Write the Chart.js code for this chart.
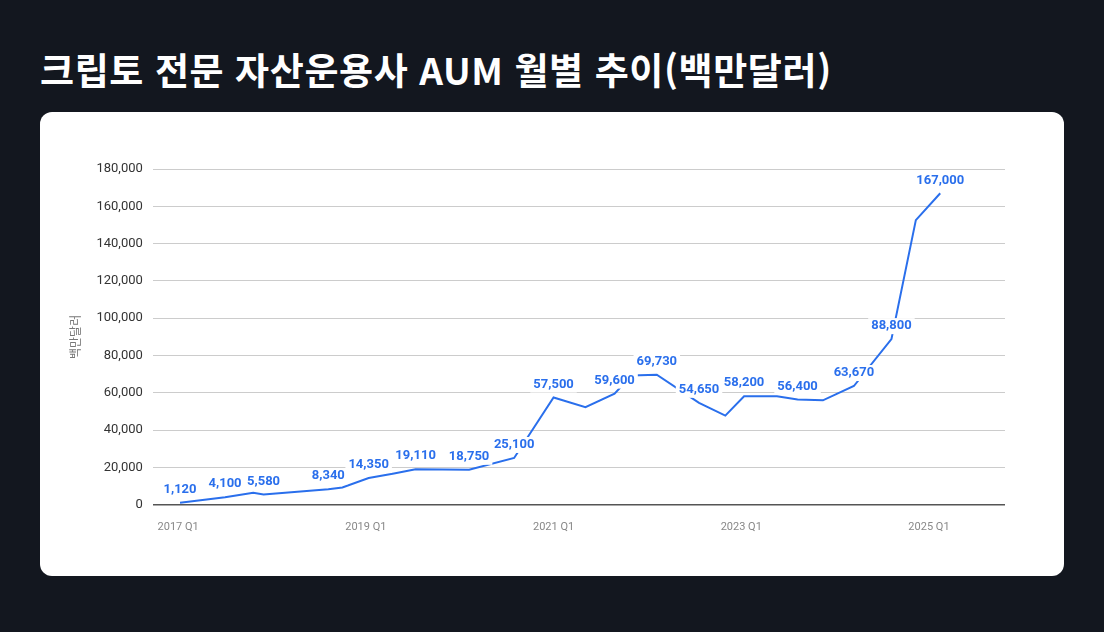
<!DOCTYPE html>
<html lang="ko">
<head>
<meta charset="UTF-8">
<title>크립토 전문 자산운용사 AUM 월별 추이</title>
<script src="https://cdn.jsdelivr.net/npm/chart.js"></script>
<style>
  body { margin: 0; width: 1104px; height: 632px; background: #13171f; font-family: Roboto, "Noto Sans CJK KR", sans-serif; overflow: hidden; }
  h1 { position: absolute; left: 40px; top: 42px; margin: 0; color: #fff; font-size: 37px; font-weight: 700; font-family: "Noto Sans CJK KR", Roboto, sans-serif; letter-spacing: 0.6px; }
  .card { position: absolute; left: 40px; top: 112px; width: 1024px; height: 464px; background: #fff; border-radius: 12px; }
  .wrap { position: absolute; left: 0; top: 0; width: 1024px; height: 464px; }
</style>
</head>
<body>
<h1>크립토 전문 자산운용사 AUM 월별 추이(백만달러)</h1>
<div class="card"><div class="wrap"><canvas id="aumChart"></canvas></div></div>

<script>
// 시점 (연도 소수 표기, 2017.0 = 2017 Q1)
const periods = [2017.02, 2017.5, 2017.8, 2017.91, 2018.6, 2018.75, 2019.03, 2019.3, 2019.53, 2020.1, 2020.58, 2021.0,
  2021.34, 2021.65, 2021.83, 2022.1, 2022.55, 2022.83, 2023.03, 2023.38, 2023.6, 2023.87, 2024.2, 2024.6, 2024.86, 2025.12];
// AUM (백만달러)
const aumValues = [1120, 4100, 6400, 5580, 8340, 9300, 14350, 16800, 19110, 18750, 25100, 57500,
  52300, 59600, 69300, 69730, 54650, 47800, 58200, 58200, 56400, 56000, 63670, 88800, 152600, 167000];
// 라벨 표시 여부
const showLabel = [1, 1, 0, 1, 1, 0, 1, 0, 1, 1, 1, 1, 0, 1, 0, 1, 1, 0, 1, 0, 1, 0, 1, 1, 0, 1];
const xTicks = [2017, 2019, 2021, 2023, 2025];

const fmt = v => v.toLocaleString('en-US');
const blue = '#2a6fec';

// 포인트 위에 값 라벨 그리기 (흰 배경)
const labelPlugin = {
  id: 'pointLabels',
  afterDatasetsDraw(chart) {
    const ctx = chart.ctx;
    const meta = chart.getDatasetMeta(0);
    ctx.save();
    ctx.font = 'bold 13px Roboto';
    ctx.textAlign = 'center';
    ctx.textBaseline = 'middle';
    meta.data.forEach((pt, i) => {
      if (!showLabel[i]) return;
      const txt = fmt(aumValues[i]);
      const w = ctx.measureText(txt).width;
      const x = pt.x, y = pt.y - 13;
      ctx.fillStyle = '#fff';
      ctx.fillRect(x - w / 2 - 3, y - 8, w + 6, 16);
      ctx.fillStyle = blue;
      ctx.fillText(txt, x, y);
    });
    ctx.restore();
  }
};

new Chart(document.getElementById('aumChart'), {
  type: 'line',
  data: {
    datasets: [{
      data: periods.map((p, i) => ({ x: p, y: aumValues[i] })),
      borderColor: blue,
      borderWidth: 2,
      pointRadius: 0,
      tension: 0,
      fill: false
    }]
  },
  options: {
    responsive: true,
    maintainAspectRatio: false,
    animation: false,
    layout: { padding: { left: 24, right: 59, top: 57, bottom: 34 } },
    plugins: { legend: { display: false }, tooltip: { enabled: false } },
    scales: {
      x: {
        type: 'linear',
        min: 2016.73,
        max: 2025.81,
        afterBuildTicks: axis => { axis.ticks = xTicks.map(v => ({ value: v })); },
        ticks: { callback: v => v + ' Q1', color: '#888', font: { family: 'Roboto', size: 11 }, maxRotation: 0, padding: 8 },
        grid: { display: false },
        border: { display: false }
      },
      y: {
        min: 0,
        max: 180000,
        ticks: { stepSize: 20000, callback: v => fmt(v), color: '#333', font: { family: 'Roboto', size: 13 }, padding: 10 },
        grid: { color: ctx => ctx.tick.value === 0 ? '#555' : '#ccc', lineWidth: ctx => ctx.tick.value === 0 ? 1.5 : 1, drawTicks: false },
        border: { display: false },
        title: { display: true, text: '백만달러', color: '#777', font: { family: 'Noto Sans CJK KR', size: 12 }, padding: 4 }
      }
    }
  },
  plugins: [labelPlugin]
});
</script>
</body>
</html>
